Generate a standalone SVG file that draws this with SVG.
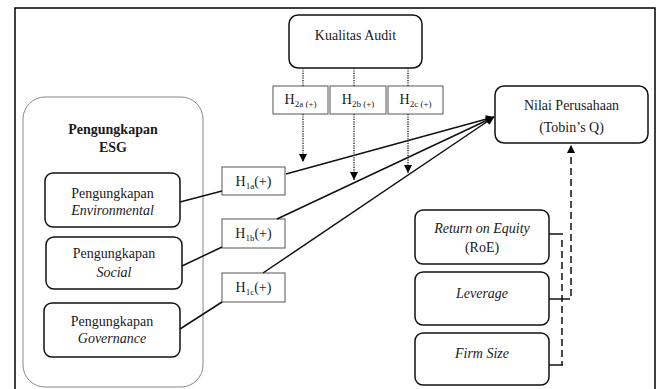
<svg xmlns="http://www.w3.org/2000/svg" width="659" height="389" viewBox="0 0 659 389" font-family="'Liberation Serif', 'Times New Roman', serif">
<defs>
<style>
text{font-family:"Liberation Serif","Times New Roman",serif;font-size:14px;fill:#1a1a1a;text-anchor:middle}
.box{fill:#fff;stroke:#111;stroke-width:1.5}
.hbox{fill:#fff;stroke:#555;stroke-width:1}
.esg{fill:none;stroke:#888;stroke-width:1}
.solid{fill:none;stroke:#111;stroke-width:1.5}
.dot{fill:none;stroke:#333;stroke-width:1.5;stroke-dasharray:1.2 1.2}
.dash{fill:none;stroke:#111;stroke-width:1.5;stroke-dasharray:7 4}
.it{font-style:italic}
.b{font-weight:bold}
.sub{font-size:9px}
</style>
<marker id="ah" viewBox="0 0 10 10" refX="10" refY="5" markerWidth="10" markerHeight="8" markerUnits="userSpaceOnUse" orient="auto"><path d="M0,0 L10,5 L0,10 z" fill="#000"/></marker>
</defs>
<path d="M15,389 V8 H655 V389" fill="none" stroke="#000" stroke-width="1.5"/>
<g id="esg-group"><rect class="esg" x="23" y="97" width="180" height="290" rx="22"/><text class="b" x="113" y="134">Pengungkapan</text><text class="b" x="113" y="152">ESG</text></g>
<g id="kualitas"><rect class="box" x="289" y="15" width="133" height="53" rx="9"/><text x="355.5" y="40">Kualitas Audit</text></g>
<g id="nilai"><rect class="box" x="495" y="86" width="153" height="57" rx="9"/><text x="571.5" y="110">Nilai Perusahaan</text><text x="571.5" y="132">(Tobin’s Q)</text></g>
<g id="env"><rect class="box" x="45" y="173" width="135" height="54" rx="8"/><text x="112.5" y="198">Pengungkapan</text><text class="it" x="112.5" y="215">Environmental</text></g>
<g id="soc"><rect class="box" x="46" y="237" width="136" height="52" rx="8"/><text x="114" y="258">Pengungkapan</text><text class="it" x="114" y="277">Social</text></g>
<g id="gov"><rect class="box" x="44" y="303" width="136" height="54" rx="8"/><text x="112" y="326">Pengungkapan</text><text class="it" x="112" y="343">Governance</text></g>
<g id="roe"><rect class="box" x="415" y="210" width="134" height="54" rx="8"/><text class="it" x="482" y="233">Return on Equity</text><text x="482" y="252">(RoE)</text></g>
<g id="lev"><rect class="box" x="415" y="272" width="134" height="53" rx="8"/><text class="it" x="482" y="298">Leverage</text></g>
<g id="size"><rect class="box" x="415" y="333" width="134" height="52" rx="8"/><text class="it" x="482" y="358">Firm Size</text></g>
<g id="h1a"><rect class="hbox" x="222" y="167" width="63" height="28"/><text x="253.5" y="186">H<tspan class="sub" dy="3">1a</tspan><tspan dy="-3">(+)</tspan></text></g>
<g id="h1b"><rect class="hbox" x="222" y="219" width="63" height="29"/><text x="253.5" y="238">H<tspan class="sub" dy="3">1b</tspan><tspan dy="-3">(+)</tspan></text></g>
<g id="h1c"><rect class="hbox" x="222" y="273" width="63" height="29"/><text x="253.5" y="292">H<tspan class="sub" dy="3">1c</tspan><tspan dy="-3">(+)</tspan></text></g>
<g id="h2a"><rect class="hbox" x="273" y="86" width="55" height="28"/><text x="300.5" y="104">H<tspan class="sub" dy="3">2a (+)</tspan></text></g>
<g id="h2b"><rect class="hbox" x="330" y="86" width="56" height="28"/><text x="358" y="104">H<tspan class="sub" dy="3">2b (+)</tspan></text></g>
<g id="h2c"><rect class="hbox" x="388" y="86" width="55" height="28"/><text x="415.5" y="104">H<tspan class="sub" dy="3">2c (+)</tspan></text></g>
<g id="connectors">
<path class="solid" d="M180,202 L222,191"/>
<path class="solid" d="M286,174 L494,117" marker-end="url(#ah)"/>
<path class="solid" d="M182,266 L222,247"/>
<path class="solid" d="M277,219 L494,117" marker-end="url(#ah)"/>
<path class="solid" d="M180,329 L222,302"/>
<path class="solid" d="M263,273 L494,117" marker-end="url(#ah)"/>
<path class="dot" d="M303,68 V86"/>
<path class="dot" d="M303,114 V162" marker-end="url(#ah)"/>
<path class="dot" d="M354,68 V86"/>
<path class="dot" d="M354,114 V180" marker-end="url(#ah)"/>
<path class="dot" d="M408,68 V86"/>
<path class="dot" d="M408,114 V173" marker-end="url(#ah)"/>
<path class="solid" d="M549,234 H563"/>
<path class="solid" d="M549,299 H563"/>
<path class="solid" d="M549,365 H563"/>
<path class="dash" d="M562,240 V365"/>
<path class="dash" d="M563,299 H571 V145" marker-end="url(#ah)"/>
</g>
</svg>
